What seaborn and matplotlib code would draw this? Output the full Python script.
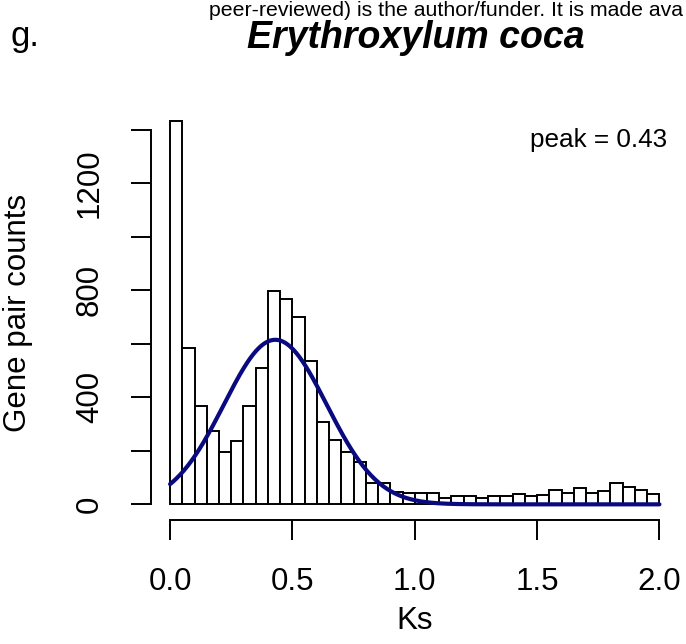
import numpy as np
import pandas as pd
import matplotlib
matplotlib.use("Agg")
import matplotlib.pyplot as plt
import seaborn as sns

# ---- data ----
bin_width = 0.05
ks_start = 0.0
counts = [1434, 585, 367, 275, 196, 235, 367, 509, 799, 769,
          702, 536, 308, 240, 195, 158, 78, 81, 47, 43,
          43, 43, 22, 31, 31, 23, 31, 31, 39, 31,
          34, 52, 44, 61, 44, 49, 78, 63, 52, 40]
peak_mean = 0.43
peak_sd = 0.21
peak_amp = 615
x_ticks = [0.0, 0.5, 1.0, 1.5, 2.0]
x_ticklabels = ["0.0", "0.5", "1.0", "1.5", "2.0"]
y_ticks = [0, 200, 400, 600, 800, 1000, 1200, 1400]
y_ticklabels = ["0", "", "400", "", "800", "", "1200", ""]
title = "Erythroxylum coca"
panel_letter = "g."
watermark = "peer-reviewed) is the author/funder. It is made ava"
peak_label = "peak = 0.43"

sns.set_theme(style="white")
plt.rcParams["font.family"] = ["Liberation Sans", "DejaVu Sans"]
plt.rcParams["text.color"] = "black"
plt.rcParams["axes.labelcolor"] = "black"

W, H = 686, 644
fig = plt.figure(figsize=(W / 100, H / 100), dpi=100)
left, right, bottom, top = 150.5, 679.0, 519.7, 105.4
ax = fig.add_axes([left / W, 1 - bottom / H, (right - left) / W, (bottom - top) / H])

edges = ks_start + bin_width * np.arange(len(counts) + 1)
centers = (edges[:-1] + edges[1:]) / 2
df = pd.DataFrame({"Ks": centers, "count": counts})
sns.histplot(data=df, x="Ks", weights="count", binwidth=bin_width,
             binrange=(float(edges[0]), float(edges[-1])), color="white",
             edgecolor="black", linewidth=1.4, alpha=1, ax=ax)

xs = np.linspace(edges[0], edges[-1], 500)
curve = pd.DataFrame({"Ks": xs,
                      "fit": peak_amp * np.exp(-0.5 * ((xs - peak_mean) / peak_sd) ** 2)})
sns.lineplot(data=curve, x="Ks", y="fit", color="#0a0a80", linewidth=3.0, ax=ax)

ax.set_xlim(-0.08, 2.08)
ax.set_ylim(-57.4, 1491)
for s in ["top", "right"]:
    ax.spines[s].set_visible(False)
for s in ["left", "bottom"]:
    ax.spines[s].set_color("black")
    ax.spines[s].set_linewidth(1.4)
ax.spines["left"].set_bounds(0, 1400)
ax.spines["bottom"].set_bounds(0, 2)

ax.set_xticks(x_ticks)
ax.set_xticklabels(x_ticklabels)
ax.set_yticks(y_ticks)
ax.set_yticklabels(y_ticklabels, rotation=90, va="center")
ax.tick_params(axis="both", direction="out", length=14.4, width=1.4,
               color="black", labelsize=22.5, labelcolor="black",
               bottom=True, left=True)
ax.tick_params(axis="x", pad=20)
ax.tick_params(axis="y", pad=18.5)

ax.set_xlabel("Ks", fontsize=22.5, va="center", color="black")
ax.xaxis.set_label_coords(0.5, (bottom - 621) / (bottom - top))
ax.set_ylabel("Gene pair counts", fontsize=22.5, va="center", color="black")
ax.yaxis.set_label_coords((18 - left) / (right - left), 0.5)

fig.text(415.5 / W, 1 - 47.5 / H, title, ha="center", va="baseline",
         fontsize=27, fontweight="bold", fontstyle="italic", color="black")
fig.text(10 / W, 1 - 46 / H, panel_letter, ha="left", va="baseline",
         fontsize=25, color="black")
fig.text(209 / W, 1 - 16 / H, watermark, ha="left", va="baseline",
         fontsize=15.3, color="black")
fig.text(667 / W, 1 - 146.7 / H, peak_label, ha="right", va="baseline",
         fontsize=18.8, color="black")

fig.savefig("out.png", dpi=100, facecolor="white")
